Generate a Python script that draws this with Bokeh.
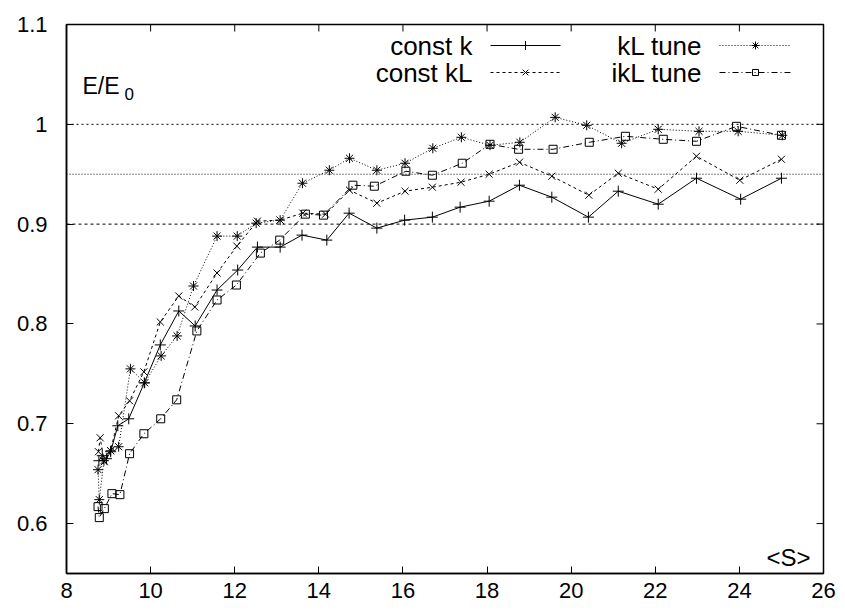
from bokeh.plotting import figure
from bokeh.models import Span, Label, FixedTicker, Range1d
from bokeh.embed import file_html
from bokeh.resources import INLINE

# ---------------- data ----------------
x_ticks = [8, 10, 12, 14, 16, 18, 20, 22, 24, 26]
y_ticks = [0.6, 0.7, 0.8, 0.9, 1.0, 1.1]
y_tick_labels = ["0.6", "0.7", "0.8", "0.9", "1", "1.1"]
ref_levels = [1.0, 0.95, 0.9]

const_k_x = [8.77, 8.85, 8.95, 9.05, 9.22, 9.48, 9.85, 10.23, 10.67, 11.06, 11.58, 12.07, 12.54, 13.08, 13.60,
             14.19, 14.72, 15.38, 16.04, 16.70, 17.36, 18.05, 18.77, 19.54, 20.41, 21.12, 22.07, 22.98, 24.03, 25.0]
const_k_y = [0.663, 0.668, 0.665, 0.672, 0.698, 0.705, 0.741, 0.779, 0.813, 0.798, 0.834, 0.854, 0.877, 0.877, 0.889,
             0.884, 0.911, 0.896, 0.904, 0.907, 0.917, 0.923, 0.939, 0.927, 0.907, 0.933, 0.920, 0.946, 0.925, 0.946]

const_kL_x = [8.76, 8.80, 8.90, 9.05, 9.24, 9.50, 9.84, 10.23, 10.67, 11.05, 11.58, 12.05, 12.54, 13.08, 13.62,
              14.16, 14.73, 15.38, 16.05, 16.70, 17.38, 18.05, 18.77, 19.54, 20.42, 21.12, 22.07, 22.98, 24.01, 25.0]
const_kL_y = [0.672, 0.686, 0.662, 0.673, 0.708, 0.723, 0.752, 0.802, 0.828, 0.817, 0.851, 0.878, 0.903, 0.904, 0.911,
              0.910, 0.934, 0.921, 0.933, 0.937, 0.942, 0.950, 0.962, 0.948, 0.929, 0.951, 0.935, 0.968, 0.944, 0.965]

kL_tune_x = [8.75, 8.78, 8.89, 9.05, 9.24, 9.52, 9.86, 10.25, 10.63, 11.02, 11.58, 12.06, 12.51, 13.08, 13.61,
             14.25, 14.73, 15.38, 16.05, 16.71, 17.39, 18.07, 18.78, 19.62, 20.37, 21.20, 22.07, 23.04, 23.97, 25.02]
kL_tune_y = [0.654, 0.624, 0.663, 0.673, 0.677, 0.755, 0.741, 0.768, 0.788, 0.838, 0.888, 0.888, 0.901, 0.904, 0.941,
             0.954, 0.966, 0.954, 0.961, 0.976, 0.987, 0.979, 0.982, 1.007, 0.999, 0.981, 0.995, 0.993, 0.993, 0.989]

ikL_tune_x = [8.75, 8.78, 8.90, 9.08, 9.27, 9.50, 9.84, 10.24, 10.62, 11.10, 11.58, 12.04, 12.61, 13.07, 13.68,
              14.11, 14.81, 15.32, 16.07, 16.70, 17.41, 18.07, 18.75, 19.57, 20.43, 21.29, 22.19, 22.98, 23.93, 25.0]
ikL_tune_y = [0.617, 0.606, 0.615, 0.630, 0.629, 0.670, 0.690, 0.705, 0.724, 0.793, 0.824, 0.839, 0.871, 0.884, 0.910,
              0.909, 0.939, 0.938, 0.953, 0.949, 0.961, 0.980, 0.975, 0.975, 0.982, 0.988, 0.985, 0.983, 0.998, 0.989]

series = [
    dict(name="const k", x=const_k_x, y=const_k_y, dash="solid", marker="cross", size=11),
    dict(name="const kL", x=const_kL_x, y=const_kL_y, dash="3 3", marker="x", size=10),
    dict(name="kL tune", x=kL_tune_x, y=kL_tune_y, dash="1 2", marker="asterisk", size=10),
    dict(name="ikL tune", x=ikL_tune_x, y=ikL_tune_y, dash="6 3 1 3", marker="square", size=8),
]

FONT = "Liberation Sans"
X0, X1, Y0, Y1 = 8, 26, 0.55, 1.1
FW, FH = 757, 549
TICK = 7

p = figure(frame_width=FW, frame_height=FH, x_range=Range1d(X0, X1), y_range=Range1d(Y0, Y1),
           output_backend="svg", toolbar_location=None,
           min_border_left=66, min_border_top=24, min_border_right=22, min_border_bottom=30)
p.grid.visible = False
p.background_fill_color = "white"
p.border_fill_color = "white"
p.outline_line_color = "black"
p.outline_line_width = 1.5

for ax in (p.xaxis[0], p.yaxis[0]):
    ax.major_tick_in = TICK
    ax.major_tick_out = 0
    ax.minor_tick_line_color = None
    ax.axis_line_color = "black"
    ax.axis_line_width = 1.5
    ax.major_tick_line_color = "black"
    ax.major_label_text_font = FONT
    ax.major_label_text_font_size = "22px"
    ax.major_label_text_color = "black"

p.xaxis[0].ticker = FixedTicker(ticks=x_ticks)
p.xaxis[0].major_label_standoff = 9
p.yaxis[0].ticker = FixedTicker(ticks=y_ticks)
p.yaxis[0].major_label_standoff = 19
p.yaxis[0].major_label_overrides = {t: s for t, s in zip(y_ticks, y_tick_labels)}

# mirrored inward ticks on the top and right borders
dx_tick = TICK * (X1 - X0) / FW
dy_tick = TICK * (Y1 - Y0) / FH
p.segment(x0=x_ticks, y0=[Y1] * len(x_ticks), x1=x_ticks, y1=[Y1 - dy_tick] * len(x_ticks),
          line_color="black", line_width=1)
p.segment(x0=[X1] * len(y_ticks), y0=y_ticks, x1=[X1 - dx_tick] * len(y_ticks), y1=y_ticks,
          line_color="black", line_width=1)

ref_dashes = ["2 3", "1 2", "3 3"]
for lvl, d in zip(ref_levels, ref_dashes):
    p.add_layout(Span(location=lvl, dimension="width", line_color="black", line_width=1, line_dash=d))

for s in series:
    p.line(s["x"], s["y"], line_color="black", line_width=1, line_dash=s["dash"])
    p.scatter(s["x"], s["y"], marker=s["marker"], size=s["size"], line_color="black",
              fill_color=None, line_width=1)

# ---------------- legend (frame-pixel layout -> data coords) ----------------
def fx(px):
    return X0 + px * (X1 - X0) / FW

def fy(py):
    return Y1 - py * (Y1 - Y0) / FH

legend_cols = [(406, 424, 494), (636, 653, 725)]
legend_rows = [21, 48]
slots = [(0, 0), (0, 1), (1, 0), (1, 1)]
for s, (c, r) in zip(series, slots):
    tx, sx0, sx1 = legend_cols[c]
    ry = legend_rows[r]
    p.add_layout(Label(x=X0, y=Y1, x_offset=tx, y_offset=-ry, text=s["name"], text_align="right",
                       text_baseline="middle", text_font=FONT, text_font_size="26px", text_color="black"))
    p.line([fx(sx0), fx(sx1)], [fy(ry), fy(ry)], line_color="black", line_width=1, line_dash=s["dash"])
    p.scatter([fx((sx0 + sx1) / 2)], [fy(ry)], marker=s["marker"], size=s["size"] - 2,
              line_color="black", fill_color=None, line_width=1)

# axis titles placed inside the frame, as in the original
p.add_layout(Label(x=X0, y=Y1, x_offset=16, y_offset=-61, text="E/E", text_align="left",
                   text_baseline="alphabetic", text_font=FONT, text_font_size="23px", text_color="black"))
p.add_layout(Label(x=X0, y=Y1, x_offset=58, y_offset=-69, text="0", text_align="left",
                   text_baseline="alphabetic", text_font=FONT, text_font_size="17px", text_color="black"))
p.add_layout(Label(x=X1, y=Y0, x_offset=-13, y_offset=16, text="<S>", text_align="right",
                   text_baseline="alphabetic", text_font=FONT, text_font_size="24px", text_color="black"))

open("out.html", "w").write(file_html(p, INLINE))
